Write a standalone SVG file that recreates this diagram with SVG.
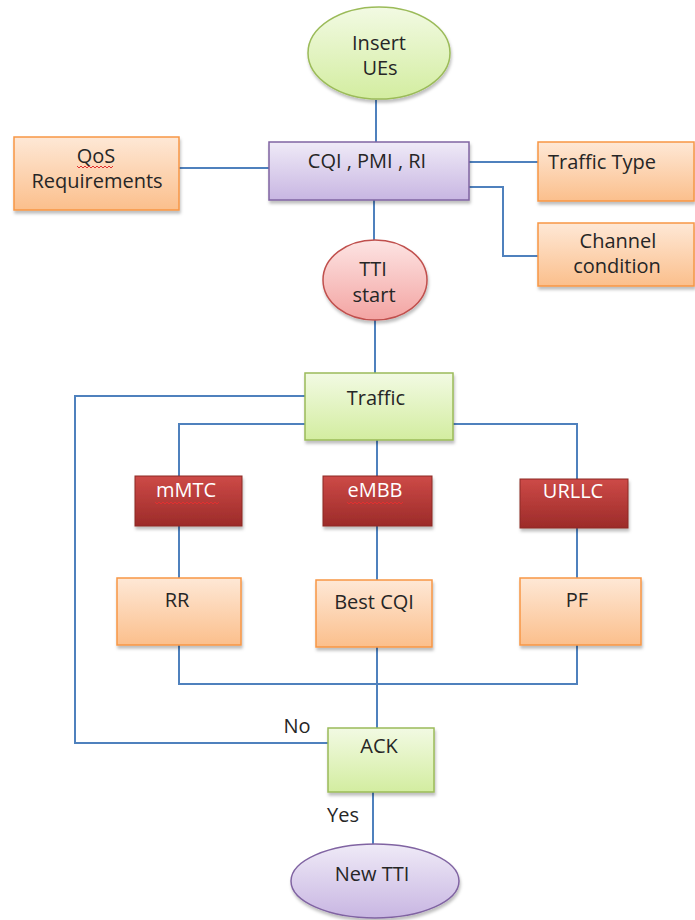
<svg xmlns="http://www.w3.org/2000/svg" width="695" height="920" viewBox="0 0 695 920">
<defs>
<linearGradient id="gGreen" x1="0" y1="0" x2="0" y2="1"><stop offset="0" stop-color="#f2fae3"/><stop offset="1" stop-color="#d3eda0"/></linearGradient>
<linearGradient id="gPurple" x1="0" y1="0" x2="0" y2="1"><stop offset="0" stop-color="#efeaf7"/><stop offset="1" stop-color="#c8b6e2"/></linearGradient>
<linearGradient id="gPink" x1="0" y1="0" x2="0" y2="1"><stop offset="0" stop-color="#fde4e3"/><stop offset="1" stop-color="#f3a4a2"/></linearGradient>
<linearGradient id="gOrange" x1="0" y1="0" x2="0" y2="1"><stop offset="0" stop-color="#fee8d6"/><stop offset="1" stop-color="#fbbf8c"/></linearGradient>
<linearGradient id="gRed" x1="0" y1="0" x2="0" y2="1"><stop offset="0" stop-color="#cd4a47"/><stop offset="1" stop-color="#9c2b29"/></linearGradient>
<filter id="sh" x="-10%" y="-10%" width="130%" height="140%"><feDropShadow dx="1" dy="3" stdDeviation="1.5" flood-color="#000" flood-opacity="0.25"/></filter>
</defs>
<style>
.t{font-family:"Open Sans","Liberation Sans",sans-serif;font-size:20px;fill:#262626;text-anchor:middle}
.w{fill:#ffffff}
.l{text-anchor:start}
.green{fill:url(#gGreen);stroke:#9bbb59;stroke-width:1.5}
.purple{fill:url(#gPurple);stroke:#8064a2;stroke-width:1.5}
.pink{fill:url(#gPink);stroke:#c0504d;stroke-width:1.5}
.orange{fill:url(#gOrange);stroke:#f79646;stroke-width:1.5}
.red{fill:url(#gRed);stroke:#8c2826;stroke-width:1}
.c{fill:none;stroke:#4f81bd;stroke-width:2}
.sq{fill:none;stroke:#e03030;stroke-width:1}
</style>
<g id="connectors">
<line class="c" x1="376" y1="100" x2="376" y2="142"/>
<line class="c" x1="374" y1="200" x2="374" y2="240"/>
<line class="c" x1="179" y1="168" x2="269" y2="168"/>
<line class="c" x1="469" y1="162" x2="538" y2="162"/>
<polyline class="c" points="469,187 503,187 503,256 538,256"/>
<line class="c" x1="375" y1="320" x2="375" y2="373"/>
<polyline class="c" points="305,424 179,424 179,476"/>
<line class="c" x1="377" y1="440" x2="377" y2="476"/>
<polyline class="c" points="453,424 577,424 577,479"/>
<line class="c" x1="179" y1="526" x2="179" y2="578"/>
<line class="c" x1="377" y1="526" x2="377" y2="580"/>
<line class="c" x1="577" y1="528" x2="577" y2="578"/>
<polyline class="c" points="179,645 179,684 577,684 577,645"/>
<line class="c" x1="377" y1="647" x2="377" y2="728"/>
<polyline class="c" points="328,743 75,743 75,396 305,396"/>
<line class="c" x1="373" y1="792" x2="373" y2="844"/>
<text class="t" x="297" y="733">No</text>
<text class="t" x="343" y="822">Yes</text>
</g>
<g id="insert-ues">
<ellipse class="green" cx="379" cy="53" rx="71" ry="46" filter="url(#sh)"/>
<text class="t" x="379" y="50">Insert</text>
<text class="t" x="380" y="75">UEs</text>
</g>
<g id="cqi">
<rect class="purple" x="269" y="142" width="200" height="58" filter="url(#sh)"/>
<text class="t" x="367" y="168">CQI , PMI , RI</text>
</g>
<g id="qos">
<rect class="orange" x="14" y="137" width="165" height="73" filter="url(#sh)"/>
<text class="t" x="96" y="163">QoS</text>
<path class="sq" d="M77,166 l2,2 l2,-2 l2,2 l2,-2 l2,2 l2,-2 l2,2 l2,-2 l2,2 l2,-2 l2,2 l2,-2 l2,2 l2,-2 l2,2 l2,-2 l2,2 l2,-2"/>
<text class="t" x="97" y="188">Requirements</text>
</g>
<g id="traffic-type">
<rect class="orange" x="538" y="142" width="156" height="59" filter="url(#sh)"/>
<text class="t l" x="548" y="169">Traffic Type</text>
</g>
<g id="channel">
<rect class="orange" x="538" y="223" width="156" height="63" filter="url(#sh)"/>
<text class="t" x="618" y="248">Channel</text>
<text class="t" x="617" y="273">condition</text>
</g>
<g id="tti-start">
<ellipse class="pink" cx="375" cy="280" rx="52" ry="40" filter="url(#sh)"/>
<text class="t" x="373" y="276">TTI</text>
<text class="t" x="374" y="302">start</text>
</g>
<g id="traffic">
<rect class="green" x="305" y="373" width="148" height="67" filter="url(#sh)"/>
<text class="t" x="376" y="405">Traffic</text>
</g>
<g id="mmtc">
<rect class="red" x="135" y="476" width="107" height="50" filter="url(#sh)"/>
<text class="t w" x="186" y="497">mMTC</text>
<path class="sq" d="M155,502 l2,2 l2,-2 l2,2 l2,-2 l2,2 l2,-2 l2,2 l2,-2 l2,2 l2,-2 l2,2 l2,-2 l2,2 l2,-2 l2,2 l2,-2 l2,2 l2,-2 l2,2 l2,-2 l2,2 l2,-2 l2,2 l2,-2 l2,2 l2,-2 l2,2 l2,-2 l2,2 l2,-2 l2,2 l2,-2"/>
</g>
<g id="embb">
<rect class="red" x="323" y="476" width="109" height="50" filter="url(#sh)"/>
<text class="t w" x="375" y="497">eMBB</text>
<path class="sq" d="M347,502 l2,2 l2,-2 l2,2 l2,-2 l2,2 l2,-2 l2,2 l2,-2 l2,2 l2,-2 l2,2 l2,-2 l2,2 l2,-2 l2,2 l2,-2 l2,2 l2,-2 l2,2 l2,-2 l2,2 l2,-2 l2,2 l2,-2 l2,2 l2,-2 l2,2 l2,-2"/>
</g>
<g id="urllc">
<rect class="red" x="520" y="479" width="108" height="49" filter="url(#sh)"/>
<text class="t w" x="573" y="498">URLLC</text>
</g>
<g id="rr">
<rect class="orange" x="117" y="578" width="124" height="67" filter="url(#sh)"/>
<text class="t" x="177" y="607">RR</text>
</g>
<g id="best-cqi">
<rect class="orange" x="316" y="580" width="116" height="67" filter="url(#sh)"/>
<text class="t" x="374" y="609">Best CQI</text>
</g>
<g id="pf">
<rect class="orange" x="520" y="578" width="121" height="67" filter="url(#sh)"/>
<text class="t" x="577" y="607">PF</text>
</g>
<g id="ack">
<rect class="green" x="328" y="728" width="106" height="64" filter="url(#sh)"/>
<text class="t" x="379" y="753">ACK</text>
</g>
<g id="new-tti">
<ellipse class="purple" cx="375" cy="881" rx="84" ry="37" filter="url(#sh)"/>
<text class="t" x="372" y="881">New TTI</text>
</g>
</svg>
